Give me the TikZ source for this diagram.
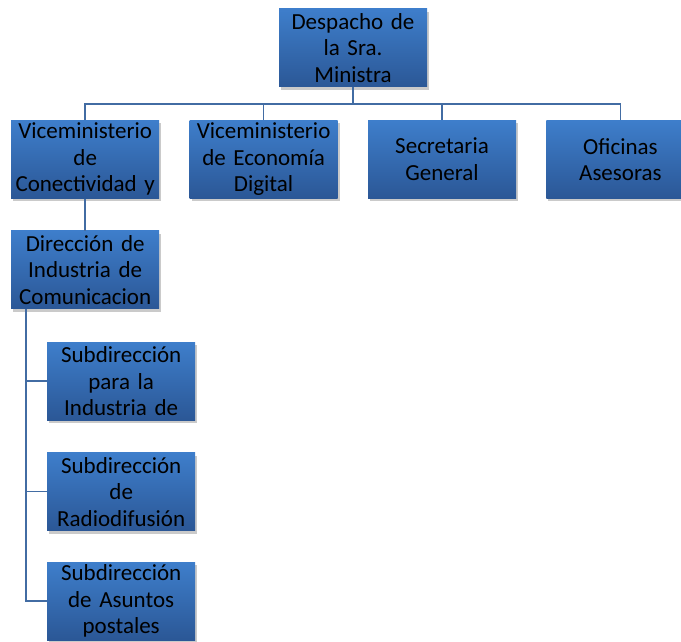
\documentclass[tikz,border=0pt]{standalone}
\usepackage{fontspec}
\setmainfont[WordSpace=0.8]{Carlito}
\usepackage{tikz}
\usetikzlibrary{positioning,shadows}
\definecolor{boxtop}{RGB}{62,126,203}
\definecolor{boxbot}{RGB}{43,87,150}
\definecolor{linkblue}{RGB}{66,108,163}

\begin{document}
\begin{tikzpicture}[
    unit/.style={rectangle, top color=boxtop, bottom color=boxbot, draw=none,
        minimum width=148pt, minimum height=78pt, text width=148pt, inner sep=0pt,
        align=center, font=\fontsize{23pt}{26.5pt}\selectfont,
        drop shadow={shadow xshift=2pt, shadow yshift=-3pt, opacity=0.35, fill=black!60}},
    link/.style={draw=linkblue, line width=1.7pt}
]
        \useasboundingbox (0,0) rectangle (681pt,-642pt);

        % Top box
        \node[unit] (desp) at (353pt,-48pt) {Despacho de\\la Sra.\\Ministra};

        % Second level
        \node[unit, below=33pt of desp, xshift=89pt] (sg) {Secretaria\\General};
        \node[unit, left=30pt of sg] (ved) {Viceministerio\\de Econom\'ia\\Digital};
        \node[unit, left=30pt of ved] (vc) {Viceministerio\\de\\Conectividad y};
        \node[unit, right=30pt of sg] (oa) {Oficinas\\Asesoras};

        % Direction under the first vice ministry
        \node[unit, below=32pt of vc] (dir) {Direcci\'on de\\Industria de\\Comunicacion};

        % Sub-directions
        \node[unit, below=33pt of dir, xshift=36pt] (sub1) {Subdirecci\'on\\para la\\Industria de};
        \node[unit, below=32pt of sub1] (sub2) {Subdirecci\'on\\de\\Radiodifusi\'on};
        \node[unit, below=31pt of sub2] (sub3) {Subdirecci\'on\\de Asuntos\\postales};

        % Connectors
        \draw[link] (desp.south) -- ++(0,-17pt) -| (vc.north);
        \draw[link] (desp.south) -- ++(0,-17pt) -| (ved.north);
        \draw[link] (desp.south) -- ++(0,-17pt) -| (sg.north);
        \draw[link] (desp.south) -- ++(0,-17pt) -| (oa.north);
        \draw[link] (vc.south) -- (dir.north);

        \coordinate (trunk) at ([xshift=15pt]dir.south west);
        \draw[link] (trunk) |- (sub1.west);
        \draw[link] (trunk) |- (sub2.west);
        \draw[link] (trunk) |- (sub3.west);
    \end{tikzpicture}
\end{document}
